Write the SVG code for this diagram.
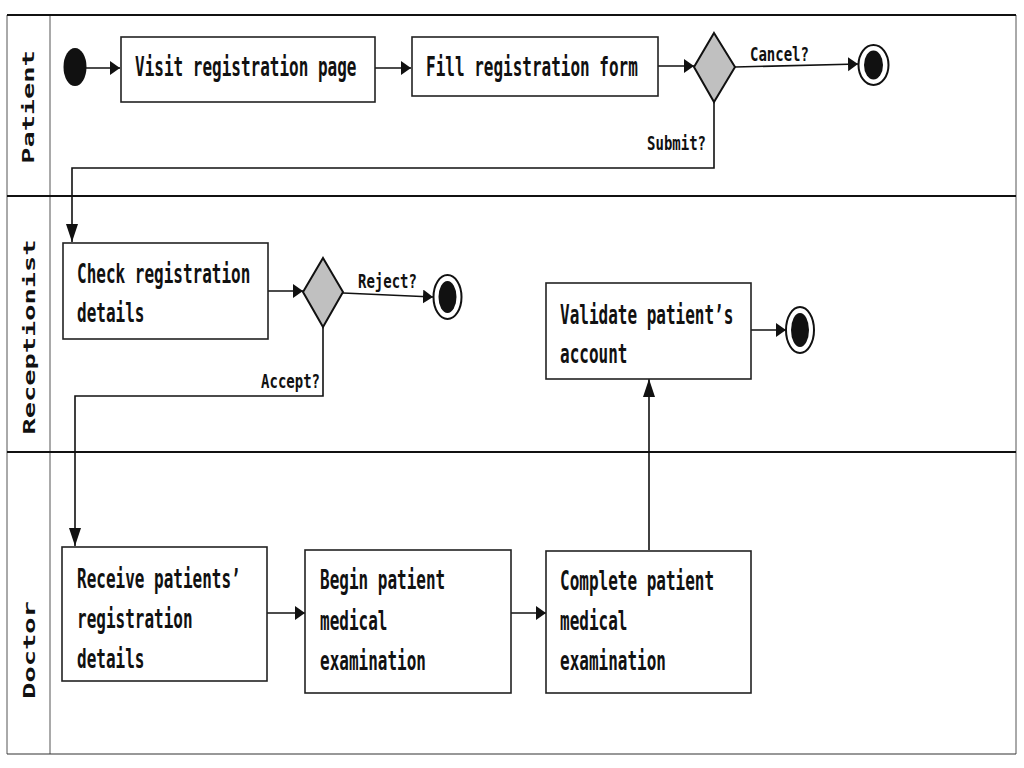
<svg xmlns="http://www.w3.org/2000/svg" width="1024" height="768" viewBox="0 0 1024 768">
<style>
.box{fill:#fff;stroke:#222;stroke-width:1.6}
.dia{fill:#c0c0c0;stroke:#111;stroke-width:2}
.edge{fill:none;stroke:#111;stroke-width:1.6}
.t{font-family:"DejaVu Sans Mono","Liberation Mono",monospace;font-weight:bold;font-size:16px;fill:#111}
.lbl{font-family:"DejaVu Sans Mono","Liberation Mono",monospace;font-weight:bold;font-size:14px;fill:#111}
.lane{font-family:"DejaVu Sans Mono","Liberation Mono",monospace;font-weight:bold;font-size:15px;fill:#111}
.ring{fill:#fff;stroke:#111;stroke-width:2}
</style>
<defs>
<marker id="ah" markerUnits="userSpaceOnUse" markerWidth="12" markerHeight="16" refX="10" refY="7" orient="auto"><path d="M0,0 L10,7 L0,14 z" fill="#111"/></marker>
<marker id="av" markerUnits="userSpaceOnUse" markerWidth="20" markerHeight="14" refX="18" refY="6" orient="auto"><path d="M0,0 L18,6 L0,12 z" fill="#111"/></marker>
</defs>
<rect width="1024" height="768" fill="#fff"/>
<g id="lanes">
<line x1="7" y1="15" x2="7" y2="754" stroke="#555" stroke-width="1"/>
<line x1="1016" y1="15" x2="1016" y2="754" stroke="#555" stroke-width="1"/>
<line x1="50" y1="15" x2="50" y2="754" stroke="#555" stroke-width="1"/>
<line x1="7" y1="754" x2="1016" y2="754" stroke="#333" stroke-width="1.2"/>
<line x1="7" y1="15" x2="1016" y2="15" stroke="#111" stroke-width="2"/>
<line x1="7" y1="196" x2="1016" y2="196" stroke="#111" stroke-width="2"/>
<line x1="7" y1="452" x2="1016" y2="452" stroke="#111" stroke-width="2"/>
<text class="lane" text-anchor="middle" transform="translate(34,107) rotate(-90) scale(1.8,1)">Patient</text>
<text class="lane" text-anchor="middle" transform="translate(35,337) rotate(-90) scale(1.8,1)">Receptionist</text>
<text class="lane" text-anchor="middle" transform="translate(35,650) rotate(-90) scale(1.8,1)">Doctor</text>
</g>
<g id="connectors">
<path class="edge" d="M86,68 L120,68" marker-end="url(#ah)"/>
<path class="edge" d="M375,68 L411,68" marker-end="url(#ah)"/>
<path class="edge" d="M658,66 L694,66" marker-end="url(#ah)"/>
<path class="edge" d="M735,67 L858,64" marker-end="url(#ah)"/>
<path class="edge" d="M714,102 L714,168 L72,168 L72,242" marker-end="url(#av)"/>
<path class="edge" d="M268,291 L303,291" marker-end="url(#ah)"/>
<path class="edge" d="M343,293 L433,297" marker-end="url(#ah)"/>
<path class="edge" d="M323,327 L323,396 L75,396 L75,546" marker-end="url(#av)"/>
<path class="edge" d="M267,613 L305,613" marker-end="url(#ah)"/>
<path class="edge" d="M511,613 L546,613" marker-end="url(#ah)"/>
<path class="edge" d="M649,550 L649,379" marker-end="url(#av)"/>
<path class="edge" d="M751,330 L786,330" marker-end="url(#ah)"/>
<text class="lbl" transform="matrix(1 0 0 1.45 750 61)">Cancel?</text>
<text class="lbl" text-anchor="end" transform="matrix(1 0 0 1.45 706 150)">Submit?</text>
<text class="lbl" transform="matrix(1 0 0 1.45 358 288)">Reject?</text>
<text class="lbl" text-anchor="end" transform="matrix(1 0 0 1.45 320 388)">Accept?</text>
</g>
<g id="start"><ellipse cx="75" cy="67" rx="11.5" ry="19" fill="#111"/></g>
<g id="visit">
<rect class="box" x="121" y="37" width="254" height="65"/>
<text class="t" transform="matrix(1 0 0 1.7 135 76)">Visit registration page</text>
</g>
<g id="fill">
<rect class="box" x="412" y="37" width="246" height="59"/>
<text class="t" transform="matrix(1 0 0 1.7 426 76)">Fill registration form</text>
</g>
<g id="decision1"><polygon class="dia" points="714,33 735,67 714,102 694,67"/></g>
<g id="end1">
<ellipse class="ring" cx="873.5" cy="65" rx="15" ry="20"/>
<ellipse cx="873.5" cy="65" rx="9.5" ry="14.5" fill="#111"/>
</g>
<g id="check">
<rect class="box" x="63" y="243" width="205" height="96"/>
<text class="t" transform="matrix(1 0 0 1.7 77 283)">Check registration</text>
<text class="t" transform="matrix(1 0 0 1.7 77 322)">details</text>
</g>
<g id="decision2"><polygon class="dia" points="323,258 343,292 323,327 303,292"/></g>
<g id="end2">
<ellipse class="ring" cx="447.5" cy="297" rx="14" ry="22"/>
<ellipse cx="447.5" cy="297" rx="9" ry="16" fill="#111"/>
</g>
<g id="validate">
<rect class="box" x="546" y="283" width="205" height="96"/>
<text class="t" transform="matrix(1 0 0 1.7 560 324)">Validate patient’s</text>
<text class="t" transform="matrix(1 0 0 1.7 560 363)">account</text>
</g>
<g id="end3">
<ellipse class="ring" cx="800" cy="330" rx="14" ry="23"/>
<ellipse cx="800" cy="330" rx="9" ry="17" fill="#111"/>
</g>
<g id="receive">
<rect class="box" x="62" y="547" width="205" height="134"/>
<text class="t" transform="matrix(1 0 0 1.7 77 588)">Receive patients’</text>
<text class="t" transform="matrix(1 0 0 1.7 77 628)">registration</text>
<text class="t" transform="matrix(1 0 0 1.7 77 668)">details</text>
</g>
<g id="begin">
<rect class="box" x="305" y="550" width="206" height="143"/>
<text class="t" transform="matrix(1 0 0 1.7 320 589)">Begin patient</text>
<text class="t" transform="matrix(1 0 0 1.7 320 630)">medical</text>
<text class="t" transform="matrix(1 0 0 1.7 320 670)">examination</text>
</g>
<g id="complete">
<rect class="box" x="546" y="551" width="205" height="142"/>
<text class="t" transform="matrix(1 0 0 1.7 560 590)">Complete patient</text>
<text class="t" transform="matrix(1 0 0 1.7 560 630)">medical</text>
<text class="t" transform="matrix(1 0 0 1.7 560 670)">examination</text>
</g>
</svg>
